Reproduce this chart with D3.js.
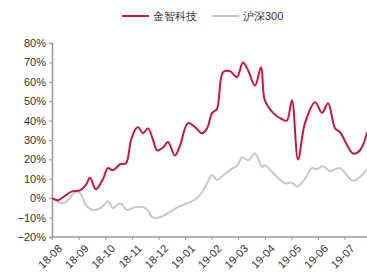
<!DOCTYPE html>
<html>
<head>
<meta charset="utf-8">
<script src="https://cdn.jsdelivr.net/npm/d3@7"></script>
<style>
  body { margin: 0; background: #fff; }
  svg text { font-family: "Liberation Sans", Arial, sans-serif; }
</style>
</head>
<body>
<svg width="367" height="272"></svg>
<script>
// month ticks
const monthLabels = ['18-08','18-09','18-10','18-11','18-12','19-01','19-02','19-03','19-04','19-05','19-06','19-07'];
const yTicks = [-0.2,-0.1,0,0.1,0.2,0.3,0.4,0.5,0.6,0.7,0.8];
const seriesNames = ['金智科技', '沪深300'];

// 金智科技 (position in months since 18-08, return)
const redT = [0,0.23,0.41,0.75,1.05,1.28,1.43,1.65,1.92,2.1,2.29,2.56,2.78,2.97,3.16,3.25,3.42,3.61,3.8,3.95,4.17,4.36,4.62,4.81,5.11,5.38,5.64,5.83,6.02,6.2,6.43,6.69,6.95,7.18,7.37,7.63,7.86,8.0,8.31,8.65,8.83,9.02,9.25,9.51,9.89,10.15,10.38,10.64,10.83,11.32,11.58,11.85];
const redV = [0,-0.01,0.005,0.035,0.04,0.07,0.105,0.046,0.10,0.155,0.144,0.175,0.18,0.30,0.36,0.365,0.335,0.36,0.30,0.247,0.26,0.29,0.22,0.27,0.387,0.366,0.335,0.36,0.44,0.46,0.65,0.655,0.624,0.70,0.66,0.58,0.675,0.505,0.44,0.407,0.40,0.505,0.20,0.387,0.495,0.44,0.49,0.36,0.34,0.23,0.247,0.34];

// 沪深300
const grayT = [0,0.41,0.6,0.86,1.05,1.28,1.5,1.73,1.92,2.1,2.29,2.56,2.82,3.12,3.42,3.6,3.76,4.06,4.44,4.74,5.08,5.45,5.68,5.83,6.02,6.2,6.5,6.8,6.98,7.14,7.37,7.63,7.9,8.0,8.31,8.76,9.02,9.21,9.51,9.77,9.96,10.19,10.45,10.83,11.32,11.85];
const grayV = [0,-0.026,-0.01,0.03,0.026,-0.036,-0.06,-0.057,-0.04,-0.015,-0.05,-0.026,-0.06,-0.046,-0.046,-0.06,-0.098,-0.098,-0.07,-0.046,-0.026,0,0.04,0.077,0.12,0.095,0.125,0.155,0.17,0.21,0.196,0.23,0.16,0.17,0.13,0.077,0.08,0.06,0.10,0.155,0.15,0.165,0.14,0.155,0.09,0.15];

const svg = d3.select('svg');
const x = d3.scaleLinear().domain([0, 1]).range([52, 78.6]);
const y = d3.scaleLinear().domain([-0.2, 0.8]).range([237, 43]);

// y axis
const yAxis = svg.append('g').attr('transform', 'translate(52,0)')
  .call(d3.axisLeft(y).tickValues(yTicks).tickFormat(d3.format('.0%')).tickSize(3).tickPadding(3));
yAxis.select('.domain').attr('stroke', '#999').attr('stroke-width', 1.5);
yAxis.selectAll('.tick line').attr('stroke', '#999');
yAxis.selectAll('text').attr('font-size', 11).attr('fill', '#333')
  .attr('font-family', '"Liberation Sans", Arial, sans-serif');

// x axis
const xAxis = svg.append('g').attr('transform', 'translate(0,237)')
  .call(d3.axisBottom(x).tickValues(d3.range(monthLabels.length)).tickFormat(i => monthLabels[i]).tickSize(3).tickSizeOuter(0));
xAxis.select('.domain').attr('stroke', '#999').attr('stroke-width', 1.5).attr('d', 'M52,0H367');
xAxis.selectAll('.tick line').attr('stroke', '#999');
xAxis.selectAll('text')
  .attr('font-size', 11).attr('fill', '#333')
  .attr('font-family', '"Liberation Sans", Arial, sans-serif')
  .attr('text-anchor', 'end')
  .attr('dy', 0)
  .attr('transform', 'translate(6,8) rotate(-45)');

const line = d3.line().x(d => x(d[0])).y(d => y(d[1])).curve(d3.curveCatmullRom.alpha(0.5));

svg.append('defs').append('clipPath').attr('id', 'clip')
  .append('rect').attr('x', 52).attr('y', 0).attr('width', 315).attr('height', 272);

const g = svg.append('g').attr('clip-path', 'url(#clip)');
g.append('path').datum(d3.zip(grayT, grayV))
  .attr('d', line).attr('fill', 'none').attr('stroke', '#c8c8c8').attr('stroke-width', 2);
g.append('path').datum(d3.zip(redT, redV))
  .attr('d', line).attr('fill', 'none').attr('stroke', '#c8173a').attr('stroke-width', 2);

// legend
const legend = svg.append('g');
const items = [
  { name: seriesNames[0], color: '#c8173a', x: 122 },
  { name: seriesNames[1], color: '#c8c8c8', x: 212 }
];
items.forEach(it => {
  legend.append('line').attr('x1', it.x).attr('x2', it.x + 27).attr('y1', 16).attr('y2', 16)
    .attr('stroke', it.color).attr('stroke-width', 2);
  legend.append('text').attr('x', it.x + 31).attr('y', 20).text(it.name)
    .attr('font-size', 11).attr('fill', '#333')
    .attr('font-family', '"Noto Sans CJK SC", sans-serif');
});
</script>
</body>
</html>
